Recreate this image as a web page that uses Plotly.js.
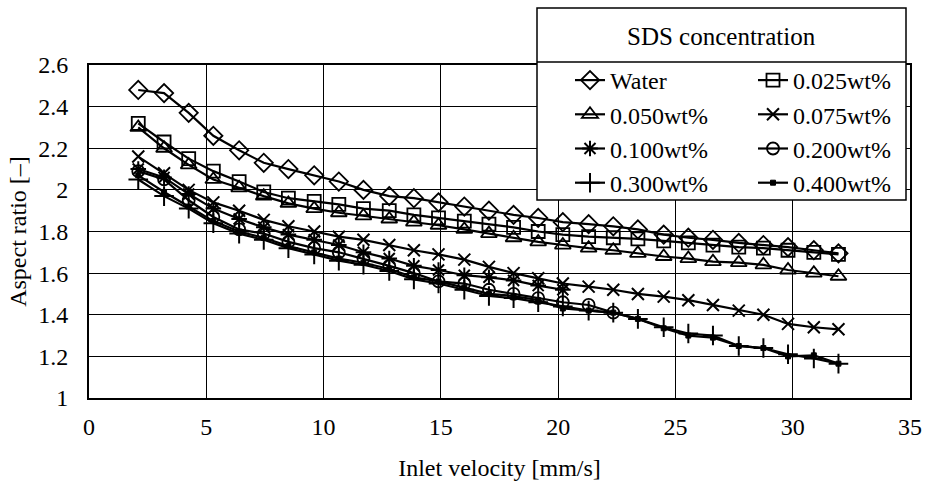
<!DOCTYPE html>
<html>
<head>
<meta charset="utf-8">
<script src="https://cdn.plot.ly/plotly-3.0.1.min.js"></script>
<style>html,body{margin:0;padding:0;background:#fff;}#chart{width:928px;height:483px;}</style>
</head>
<body>
<div id="chart"></div>
<script>
// Inlet velocity [mm/s]
var velocity = [2.1, 3.2, 4.25, 5.3, 6.4, 7.45, 8.5, 9.6, 10.65, 11.7, 12.8, 13.85, 14.9, 16.0, 17.05, 18.1, 19.15, 20.2, 21.3, 22.35, 23.4, 24.5, 25.55, 26.6, 27.7, 28.75, 29.8, 30.9, 31.95];
var velocityShort100 = [2.1, 3.2, 4.25, 5.3, 6.4, 7.45, 8.5, 9.6, 10.65, 11.7, 12.8, 13.85, 14.9, 16.0, 17.05, 18.1, 19.15, 20.2];
var velocityShort200 = [2.1, 3.2, 4.25, 5.3, 6.4, 7.45, 8.5, 9.6, 10.65, 11.7, 12.8, 13.85, 14.9, 16.0, 17.05, 18.1, 19.15, 20.2, 21.3, 22.35];

// Aspect ratio [-]
var water   = [2.48, 2.465, 2.37, 2.26, 2.19, 2.13, 2.10, 2.07, 2.04, 2.00, 1.97, 1.96, 1.94, 1.92, 1.90, 1.88, 1.865, 1.845, 1.835, 1.825, 1.81, 1.785, 1.77, 1.76, 1.745, 1.735, 1.725, 1.71, 1.695];
var wt025   = [2.32, 2.23, 2.15, 2.09, 2.04, 1.99, 1.96, 1.945, 1.93, 1.91, 1.90, 1.88, 1.865, 1.85, 1.835, 1.82, 1.80, 1.785, 1.775, 1.77, 1.765, 1.755, 1.745, 1.735, 1.725, 1.72, 1.71, 1.70, 1.69];
var wt050   = [2.30, 2.20, 2.12, 2.05, 2.01, 1.97, 1.935, 1.91, 1.89, 1.875, 1.86, 1.845, 1.83, 1.81, 1.79, 1.77, 1.75, 1.735, 1.72, 1.71, 1.695, 1.68, 1.67, 1.655, 1.65, 1.64, 1.615, 1.60, 1.585];
var wt075   = [2.16, 2.08, 2.00, 1.94, 1.90, 1.856, 1.825, 1.80, 1.775, 1.76, 1.735, 1.71, 1.69, 1.665, 1.63, 1.60, 1.575, 1.55, 1.535, 1.52, 1.50, 1.487, 1.47, 1.447, 1.42, 1.40, 1.356, 1.34, 1.33];
var wt100   = [2.10, 2.06, 1.98, 1.91, 1.86, 1.82, 1.785, 1.76, 1.735, 1.70, 1.67, 1.635, 1.615, 1.59, 1.58, 1.565, 1.54, 1.52];
var wt200   = [2.09, 2.05, 1.95, 1.87, 1.81, 1.79, 1.75, 1.72, 1.70, 1.67, 1.635, 1.60, 1.56, 1.55, 1.52, 1.50, 1.48, 1.46, 1.447, 1.41];
var wt300   = [2.05, 1.97, 1.91, 1.84, 1.79, 1.76, 1.72, 1.69, 1.66, 1.64, 1.61, 1.57, 1.55, 1.52, 1.49, 1.48, 1.46, 1.44, 1.42, 1.41, 1.38, 1.34, 1.31, 1.30, 1.25, 1.24, 1.21, 1.19, 1.165];
var wt400   = [2.07, 1.99, 1.92, 1.85, 1.80, 1.77, 1.73, 1.70, 1.67, 1.65, 1.62, 1.58, 1.56, 1.53, 1.50, 1.49, 1.47, 1.43, 1.42, 1.41, 1.38, 1.335, 1.30, 1.29, 1.25, 1.24, 1.20, 1.205, 1.165];

var seriesNames = ['Water', '0.025wt%', '0.050wt%', '0.075wt%', '0.100wt%', '0.200wt%', '0.300wt%', '0.400wt%'];
var xAxisTitle = 'Inlet velocity [mm/s]';
var yAxisTitle = 'Aspect ratio [\u2013]';
var legendTitle = 'SDS concentration';

var FONT = "'Liberation Serif', 'Times New Roman', Times, serif";
var W = 928, H = 483, ML = 89, MR = 18, MT = 65, MB = 85;
var PW = W - ML - MR, PH = H - MT - MB;
function px(x) { return (x - ML) / PW; }
function py(y) { return (H - MB - y) / PH; }

function mk(x, y, name, symbol, size, legend, lw) {
  return {
    x: x, y: y, name: name, type: 'scatter', mode: 'lines+markers',
    line: {color: '#000', width: 2.2},
    marker: {symbol: symbol, size: size, color: '#000', line: {color: '#000', width: lw}},
    legend: legend, hoverinfo: 'x+y+name'
  };
}

var traces = [
  mk(velocity, water, seriesNames[0], 'diamond-open', 14, 'legend', 1.8),
  mk(velocity, wt025, seriesNames[1], 'square-open', 13, 'legend2', 1.8),
  mk(velocity, wt050, seriesNames[2], 'triangle-up-open', 14, 'legend', 1.8),
  mk(velocity, wt075, seriesNames[3], 'x-thin-open', 12, 'legend2', 2),
  mk(velocityShort100, wt100, seriesNames[4], 'asterisk-open', 13, 'legend', 2),
  mk(velocityShort200, wt200, seriesNames[5], 'circle-open', 12, 'legend2', 1.8),
  mk(velocity, wt300, seriesNames[6], 'cross-thin-open', 14, 'legend', 2),
  mk(velocity, wt400, seriesNames[7], 'square', 5, 'legend2', 1)
];

var legendCommon = {
  bgcolor: 'rgba(0,0,0,0)', borderwidth: 0, orientation: 'v',
  font: {family: FONT, size: 24, color: '#000'},
  xanchor: 'left', yanchor: 'top', tracegroupgap: 0, itemclick: false
};

var layout = {
  width: W, height: H,
  margin: {l: ML, r: MR, t: MT, b: MB, pad: 0},
  paper_bgcolor: '#fff', plot_bgcolor: '#fff',
  font: {family: FONT, size: 24, color: '#000'},
  showlegend: true,
  xaxis: {
    range: [0, 35], dtick: 5, tick0: 0, ticks: '',
    showgrid: true, gridcolor: '#000', gridwidth: 1,
    showline: true, linecolor: '#000', linewidth: 2, mirror: true,
    zeroline: false, ticklabelstandoff: 6,
    tickfont: {family: FONT, size: 24, color: '#000'},
    title: {text: xAxisTitle, font: {family: FONT, size: 24, color: '#000'}, standoff: 20}
  },
  yaxis: {
    range: [1, 2.6], dtick: 0.2, tick0: 1, ticks: '',
    showgrid: true, gridcolor: '#000', gridwidth: 1,
    showline: true, linecolor: '#000', linewidth: 2, mirror: true,
    zeroline: false, ticklabelstandoff: 14,
    tickfont: {family: FONT, size: 24, color: '#000'},
    title: {text: yAxisTitle, font: {family: FONT, size: 24, color: '#000'}, standoff: 5}
  },
  legend: Object.assign({}, legendCommon, {x: px(570), y: py(58)}),
  legend2: Object.assign({}, legendCommon, {x: px(753), y: py(58)}),
  shapes: [
    {type: 'rect', xref: 'paper', yref: 'paper', x0: px(537), x1: px(906), y0: py(200), y1: py(8),
     fillcolor: '#fff', line: {color: '#000', width: 1.5}, layer: 'above'},
    {type: 'line', xref: 'paper', yref: 'paper', x0: px(537), x1: px(906), y0: py(62), y1: py(62),
     line: {color: '#000', width: 1.5}, layer: 'above'}
  ],
  annotations: [
    {text: legendTitle, xref: 'paper', yref: 'paper', x: px(721), y: py(36),
     xanchor: 'center', yanchor: 'middle', showarrow: false,
     font: {family: FONT, size: 25, color: '#000'}}
  ]
};

Plotly.newPlot('chart', traces, layout, {displayModeBar: false, staticPlot: true});
</script>
</body>
</html>
